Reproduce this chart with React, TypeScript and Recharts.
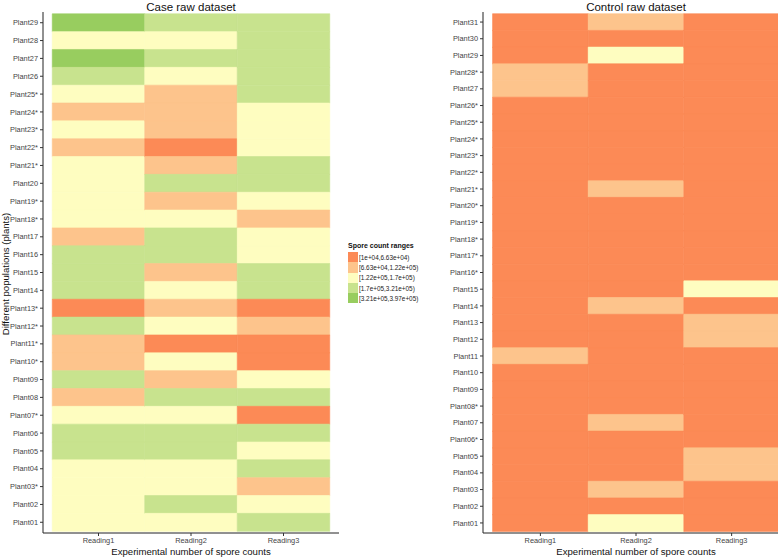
import { BarChart, Bar, XAxis, YAxis, Cell } from 'recharts'

const FONT = '"Liberation Sans", Arial, Helvetica, sans-serif'

// spore count range classes (1 = lowest ... 5 = highest)
const RANGE_LABELS = [
  '[1e+04,6.63e+04)',
  '[6.63e+04,1.22e+05)',
  '[1.22e+05,1.7e+05)',
  '[1.7e+05,3.21e+05)',
  '[3.21e+05,3.97e+05)',
]
const RANGE_COLORS = ['#fc8a56', '#fdc48c', '#fefdc0', '#c8e38e', '#98cd5f']

const READINGS = ['Reading1', 'Reading2', 'Reading3']

// Case dataset, listed top to bottom
const casePlants = [
  'Plant29', 'Plant28', 'Plant27', 'Plant26', 'Plant25*', 'Plant24*', 'Plant23*', 'Plant22*',
  'Plant21*', 'Plant20', 'Plant19*', 'Plant18*', 'Plant17', 'Plant16', 'Plant15', 'Plant14',
  'Plant13*', 'Plant12*', 'Plant11*', 'Plant10*', 'Plant09', 'Plant08', 'Plant07*', 'Plant06',
  'Plant05', 'Plant04', 'Plant03*', 'Plant02', 'Plant01',
]
const caseReading1 = [5, 3, 5, 4, 3, 2, 3, 2, 3, 3, 3, 3, 2, 4, 4, 4, 1, 4, 2, 2, 4, 2, 3, 4, 4, 3, 3, 3, 3]
const caseReading2 = [4, 3, 4, 3, 2, 2, 2, 1, 2, 4, 2, 3, 4, 4, 2, 3, 2, 3, 1, 3, 2, 4, 3, 4, 4, 3, 3, 4, 3]
const caseReading3 = [4, 4, 4, 4, 4, 3, 3, 3, 4, 4, 3, 2, 3, 3, 4, 4, 1, 2, 1, 1, 3, 4, 1, 4, 3, 4, 2, 3, 4]

// Control dataset, listed top to bottom
const controlPlants = [
  'Plant31', 'Plant30', 'Plant29', 'Plant28*', 'Plant27', 'Plant26*', 'Plant25*', 'Plant24*',
  'Plant23*', 'Plant22*', 'Plant21*', 'Plant20*', 'Plant19*', 'Plant18*', 'Plant17*', 'Plant16*',
  'Plant15', 'Plant14', 'Plant13', 'Plant12', 'Plant11', 'Plant10', 'Plant09', 'Plant08*',
  'Plant07', 'Plant06*', 'Plant05', 'Plant04', 'Plant03', 'Plant02', 'Plant01',
]
const controlReading1 = [1, 1, 1, 2, 2, 1, 1, 1, 1, 1, 1, 1, 1, 1, 1, 1, 1, 1, 1, 1, 2, 1, 1, 1, 1, 1, 1, 1, 1, 1, 1]
const controlReading2 = [2, 1, 3, 1, 1, 1, 1, 1, 1, 1, 2, 1, 1, 1, 1, 1, 1, 2, 1, 1, 1, 1, 1, 1, 2, 1, 1, 1, 2, 1, 3]
const controlReading3 = [1, 1, 1, 1, 1, 1, 1, 1, 1, 1, 1, 1, 1, 1, 1, 1, 3, 1, 2, 2, 1, 1, 1, 1, 1, 1, 2, 2, 1, 1, 1]

function buildRows(plants: string[], r1: number[], r2: number[], r3: number[]) {
  // each reading occupies one unit along the x axis
  return plants.map((plant, i) => ({ plant, r1: 1, r2: 1, r3: 1, c1: r1[i], c2: r2[i], c3: r3[i] }))
}

const tickStyle = { fill: '#444', fontSize: 7.4, fontFamily: FONT }

function Heatmap({ rows, width, padY }: { rows: ReturnType<typeof buildRows>; width: number; padY: number }) {
  const keys = ['r1', 'r2', 'r3'] as const
  const colorKeys = ['c1', 'c2', 'c3'] as const
  return (
    <BarChart
      width={width}
      height={558}
      data={rows}
      layout="vertical"
      barCategoryGap={0}
      barGap={0}
      margin={{ top: 12, right: 0, bottom: 0, left: 0 }}
    >
      <XAxis
        type="number"
        domain={[-0.1, 3.1]}
        ticks={[0.5, 1.5, 2.5]}
        tickFormatter={(v: number) => READINGS[Math.floor(v)]}
        tick={tickStyle}
        tickSize={3}
        tickLine={{ stroke: '#333' }}
        axisLine={{ stroke: '#222' }}
        height={25}
        interval={0}
      />
      <YAxis
        type="category"
        dataKey="plant"
        width={43}
        tick={tickStyle}
        tickSize={3}
        tickLine={{ stroke: '#333' }}
        axisLine={{ stroke: '#222' }}
        padding={{ top: padY, bottom: padY }}
        interval={0}
      />
      {keys.map((k, j) => (
        <Bar key={k} dataKey={k} stackId="s" isAnimationActive={false}>
          {rows.map((row, i) => {
            const c = RANGE_COLORS[row[colorKeys[j]] - 1]
            return <Cell key={i} fill={c} stroke={c} strokeWidth={0.6} />
          })}
        </Bar>
      ))}
    </BarChart>
  )
}

const caseRows = buildRows(casePlants, caseReading1, caseReading2, caseReading3)
const controlRows = buildRows(controlPlants, controlReading1, controlReading2, controlReading3)

const titleStyle = {
  position: 'absolute' as const,
  fontFamily: FONT,
  fontSize: 11.5,
  color: '#111',
  textAlign: 'center' as const,
  lineHeight: '14px',
}

const axisTitleStyle = {
  position: 'absolute' as const,
  fontFamily: FONT,
  fontSize: 9.6,
  color: '#111',
  textAlign: 'center' as const,
  lineHeight: '12px',
  whiteSpace: 'nowrap' as const,
}

export default function App() {
  return (
    <div style={{ position: 'absolute', left: 0, top: 0, width: 778, height: 558, overflow: 'hidden', background: '#fff' }}>
      {/* Case panel */}
      <div style={{ position: 'absolute', left: 0, top: 0 }}>
        <Heatmap rows={caseRows} width={339} padY={1.8} />
      </div>
      <div style={{ ...titleStyle, left: 43, width: 296, top: 0 }}>Case raw dataset</div>
      <div style={{ ...axisTitleStyle, left: 43, width: 296, top: 546 }}>Experimental number of spore counts</div>
      <div
        style={{
          ...axisTitleStyle,
          left: -144,
          width: 300,
          top: 268,
          transform: 'rotate(-90deg)',
        }}
      >
        Different populations (plants)
      </div>

      {/* Legend */}
      <div style={{ position: 'absolute', left: 348, top: 241, fontFamily: FONT }}>
        <div style={{ fontSize: 7, fontWeight: 700, color: '#111', lineHeight: '10px', marginBottom: 1 }}>
          Spore count ranges
        </div>
        {RANGE_LABELS.map((label, i) => (
          <div key={label} style={{ display: 'flex', alignItems: 'center', height: 10.3 }}>
            <div style={{ width: 10, height: 10.3, background: RANGE_COLORS[i] }} />
            <span style={{ fontSize: 6.4, color: '#222', marginLeft: 1 }}>{label}</span>
          </div>
        ))}
      </div>

      {/* Control panel */}
      <div style={{ position: 'absolute', left: 440, top: 0 }}>
        <Heatmap rows={controlRows} width={349} padY={1.7} />
      </div>
      <div style={{ ...titleStyle, left: 483, width: 306, top: 0 }}>Control raw dataset</div>
      <div style={{ ...axisTitleStyle, left: 483, width: 306, top: 546 }}>Experimental number of spore counts</div>
    </div>
  )
}
